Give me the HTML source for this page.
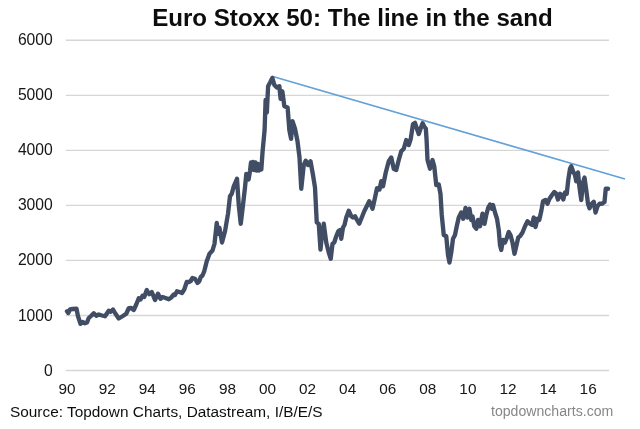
<!DOCTYPE html>
<html><head><meta charset="utf-8"><title>Euro Stoxx 50</title>
<style>
html,body{margin:0;padding:0;background:#fff;}
body{width:640px;height:429px;overflow:hidden;font-family:"Liberation Sans",Arial,sans-serif;}
svg{display:block;}
text{font-family:"Liberation Sans",Arial,sans-serif;}
</style></head><body>
<svg width="640" height="429" viewBox="0 0 640 429">
<defs><filter id="soft" x="-5%" y="-5%" width="110%" height="110%"><feGaussianBlur stdDeviation="0.45"/></filter></defs>
<rect width="640" height="429" fill="#ffffff"/>
<g filter="url(#soft)">
<g stroke="#d6d6d6" stroke-width="1.35" fill="none">
<line x1="65.8" x2="609" y1="40.28" y2="40.28"/>
<line x1="65.8" x2="609" y1="95.32" y2="95.32"/>
<line x1="65.8" x2="609" y1="150.36" y2="150.36"/>
<line x1="65.8" x2="609" y1="205.40" y2="205.40"/>
<line x1="65.8" x2="609" y1="260.44" y2="260.44"/>
<line x1="65.8" x2="609" y1="315.48" y2="315.48"/>
<line x1="65.8" x2="609" y1="370.52" y2="370.52"/>
</g>
<text x="152.2" y="26" font-size="24" font-weight="bold" fill="#0a0a0a" textLength="400.5" lengthAdjust="spacingAndGlyphs">Euro Stoxx 50: The line in the sand</text>
<g font-size="15.7" fill="#141414" text-anchor="end">
<text x="52.8" y="44.5">6000</text>
<text x="52.8" y="99.7">5000</text>
<text x="52.8" y="154.9">4000</text>
<text x="52.8" y="210.1">3000</text>
<text x="52.8" y="265.3">2000</text>
<text x="52.8" y="320.5">1000</text>
<text x="52.8" y="375.7">0</text>
</g>
<g font-size="15.35" fill="#141414" text-anchor="middle">
<text x="67.10" y="394">90</text>
<text x="107.18" y="394">92</text>
<text x="147.26" y="394">94</text>
<text x="187.34" y="394">96</text>
<text x="227.42" y="394">98</text>
<text x="267.50" y="394">00</text>
<text x="307.58" y="394">02</text>
<text x="347.66" y="394">04</text>
<text x="387.74" y="394">06</text>
<text x="427.82" y="394">08</text>
<text x="467.90" y="394">10</text>
<text x="507.98" y="394">12</text>
<text x="548.06" y="394">14</text>
<text x="588.14" y="394">16</text>
</g>
<text x="10" y="417" font-size="15.3" fill="#111" textLength="312.5" lengthAdjust="spacingAndGlyphs">Source: Topdown Charts, Datastream, I/B/E/S</text>
<text x="491" y="416.4" font-size="14" fill="#878787" textLength="122.3" lengthAdjust="spacingAndGlyphs">topdowncharts.com</text>
<line x1="272" y1="76.25" x2="625" y2="179" stroke="#62a0d8" stroke-width="1.55"/>
<polyline fill="none" stroke="#3f4e65" stroke-width="4.35" stroke-linejoin="round" stroke-linecap="round" points="67,311.25 68.25,313 70,309.5 72.5,309 76.5,308.75 78,316.25 80.5,323.75 82.5,322 85,323.25 87,322.5 88.75,318 91.25,315.75 93.75,313.25 96.25,315.75 98.75,314.5 102,315.5 105,316.25 108.75,310.75 110.75,311.75 113,309.5 115.5,313.75 118.75,318.5 122.5,316.25 126.25,313.75 128.75,308.25 131.25,308 133.75,310 136.25,304.5 138.75,298.25 140.5,299.5 142.5,295.75 144.25,297 146.75,290 149.25,294.25 151.75,292 155,300 158,293.75 160.5,298.75 162.5,297 165.5,298 168.75,299.25 171.25,297.5 173.75,294.5 175,295 177,291.25 179.5,292 182,293 184.25,289.5 186.75,282 189.25,282 190.5,281.25 192.5,278 195,278.75 197.5,283 199.25,281.25 200.75,277 202.5,275.5 204.25,271.25 206.75,261.25 209.5,253.75 212.5,250.5 214.5,243.75 216.75,223 218.25,233.75 219.5,228 222,242.5 225,231.25 228,213.75 230,196.25 231.75,193.75 233.75,186.25 237,178.75 238.75,205 240.75,223.75 243,205 245,187.5 246.3,174 248.6,179.5 250,171 251,162.5 252,169.5 253,162 254.2,170 255.4,162.5 256.6,170.5 257.8,164 259,170.5 260.2,165.5 261.3,169.5 262.6,151.25 264.6,130 265.6,100 266.85,112.5 268.1,86.25 270.1,82.5 272.35,78 274.35,85 276.85,87.5 279.35,86.25 280.6,98.75 282.35,91.25 284.35,106.25 287.6,107.5 289.35,130 291.1,138.75 292.5,121.25 295,128.75 297.5,141.25 299.5,157.5 301.25,188.75 303.75,165 305.75,160.75 308,165 310.5,161.25 313,175 315,187.5 316.75,222.5 318.75,223.75 320.5,249.5 322,233.75 323.75,223.75 326.25,242.5 328.75,252.5 330.75,258.75 332.5,243.75 334.25,242.5 336.25,236.25 338.25,231.25 340,230 341.25,238.75 343,227.5 344.5,225 346.25,217.5 348.75,210.75 351.25,216.25 353,217.5 355,216.25 357,220 359.25,223.75 361.75,217.5 364.25,211.25 366.75,206.25 369.25,201.25 370.5,203.75 372.5,208.75 374.5,200 377,188.25 379.5,189.5 381.25,181.25 383,186.25 385.75,172.5 388.75,161.25 391.25,157.5 393.75,168.75 396.25,170 398.75,160 401.25,151.25 403.75,148.75 406.25,140 408.75,145 410.75,138.75 413,124 415,122.8 417,129 418.75,134 420.75,128 422.6,123.2 424.2,126.5 425.8,128.5 426.6,140 427.5,160 430,168.75 432.5,160 434.25,166.25 436.25,185 438.75,184.5 440.5,194 441.75,215 443.75,235 446.25,236.25 448,255 449.5,262.5 451.25,252.5 453,238.75 455,235 456.75,226.25 458.75,217.5 461.25,212.5 463.25,218.75 465.5,208 467.5,217.5 469.5,208.75 471.25,220 472.5,216.25 474.25,226.25 476.25,228.75 478,220 480,226.25 482.5,213.75 484.5,223.75 486.25,215 488.25,207.5 490,204.5 491.75,208.75 493,205 495,212.5 497,218.75 498.75,230 500,245 501.25,250 503,240 505,242.5 507,237.5 508.75,232 510.5,235 512.5,242.5 514.5,253.75 516.25,246.25 518.25,237.5 520,236.25 522.5,232.5 525,226.25 527.5,221.25 530,223.75 532,225 533.75,217.5 535.5,227 537.5,218.75 539.25,220 541.25,211.25 543,201.25 545.5,200 547.5,203.75 549.5,198.75 552,195 554.25,192 556.25,193.75 558,199.5 560,193.75 562,195 563.25,199.5 565,192.5 566.75,193.75 568.25,180 570,168.75 571.25,166.25 573,171.25 575,175 576.25,181.25 578,172.5 579.5,187.5 581.25,200 583,182.5 584.5,177.5 586.25,190 588,203.75 589.5,208.25 591.75,203.75 593.75,201.75 595.5,212.5 597.5,206.25 599.5,203.75 602,203.75 604.5,202 605.75,188.75 608,188.75"/>
</g>
</svg>
</body></html>
